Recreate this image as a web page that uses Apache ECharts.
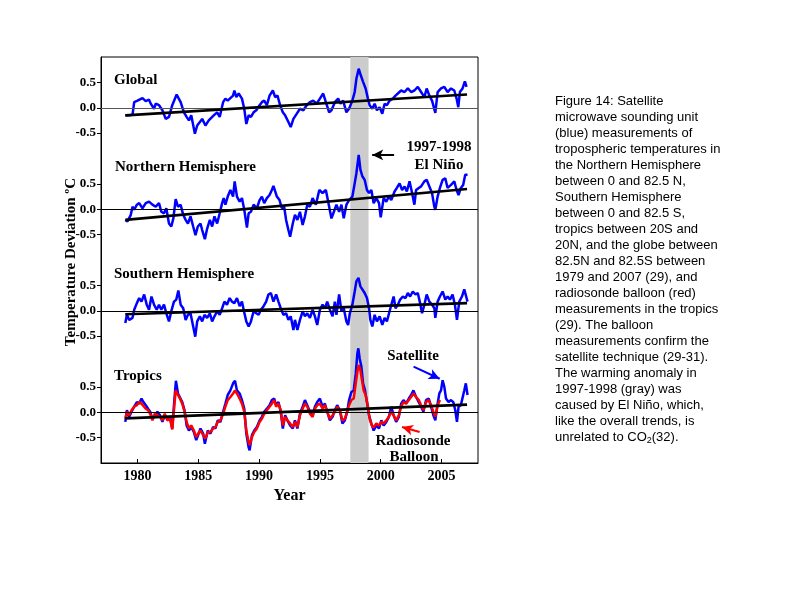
<!DOCTYPE html>
<html>
<head>
<meta charset="utf-8">
<script src="https://cdn.jsdelivr.net/npm/echarts@6/dist/echarts.min.js"></script>
<style>
html,body{margin:0;padding:0;background:#fff;}
#chart{width:800px;height:600px;}
</style>
</head>
<body>
<div id="chart"></div>
<script>
// Panel offsets on the shared y scale (each panel is drawn 2 units above the next)
const panelOffsets = { global: 6, nh: 4, sh: 2, tropics: 0 };
const xTicks = [1980, 1985, 1990, 1995, 2000, 2005];
const elNinoBand = [1997.5, 1999.0];

// Global satellite anomaly [year, °C]
const globalSat = [[1979.0,-0.15],[1979.32,-0.15],[1979.59,-0.14],[1979.73,0.11],[1980.0,0.14],[1980.41,0.19],[1980.68,0.13],[1980.95,0.16],[1981.09,0.08],[1981.36,-0.02],[1981.5,0.08],[1981.77,0.05],[1982.05,-0.05],[1982.32,-0.22],[1982.59,-0.18],[1982.86,0.05],[1983.22,0.26],[1983.55,0.11],[1983.82,-0.09],[1984.04,-0.18],[1984.23,-0.25],[1984.42,-0.15],[1984.72,-0.51],[1984.91,-0.35],[1985.13,-0.28],[1985.32,-0.22],[1985.59,-0.35],[1985.86,-0.25],[1986.0,-0.22],[1986.27,-0.15],[1986.55,-0.09],[1986.76,-0.18],[1987.04,0.11],[1987.23,0.18],[1987.42,0.14],[1987.64,0.19],[1987.86,0.24],[1987.97,0.34],[1988.13,0.21],[1988.32,0.28],[1988.59,0.18],[1988.78,-0.02],[1988.95,-0.32],[1989.14,-0.15],[1989.33,-0.18],[1989.55,-0.09],[1989.77,-0.05],[1990.04,0.05],[1990.23,0.11],[1990.42,0.14],[1990.64,0.05],[1990.86,0.24],[1991.13,0.34],[1991.32,0.21],[1991.51,0.24],[1991.73,0.05],[1991.95,-0.09],[1992.14,-0.15],[1992.41,-0.28],[1992.6,-0.38],[1992.82,-0.22],[1993.09,-0.12],[1993.36,-0.02],[1993.64,-0.05],[1993.91,0.05],[1994.18,0.11],[1994.45,0.14],[1994.73,0.08],[1995.0,0.18],[1995.27,0.28],[1995.49,0.11],[1995.76,-0.09],[1995.95,-0.05],[1996.23,0.11],[1996.5,0.18],[1996.69,0.08],[1996.91,0.14],[1997.18,-0.09],[1997.4,-0.02],[1997.67,0.14],[1997.86,0.31],[1998.0,0.57],[1998.19,0.77],[1998.36,0.64],[1998.55,0.51],[1998.76,0.38],[1998.95,0.18],[1999.09,0.05],[1999.31,-0.02],[1999.5,0.08],[1999.69,-0.05],[1999.91,0.01],[2000.13,-0.12],[2000.32,0.08],[2000.51,0.05],[2000.73,0.14],[2001.0,0.18],[2001.22,0.24],[2001.41,0.28],[2001.68,0.34],[2001.96,0.31],[2002.23,0.38],[2002.5,0.31],[2002.77,0.34],[2003.05,0.41],[2003.32,0.31],[2003.59,0.21],[2003.78,0.38],[2004.0,0.24],[2004.22,0.14],[2004.49,-0.1],[2004.68,0.31],[2004.96,0.38],[2005.23,0.41],[2005.5,0.31],[2005.78,0.38],[2006.05,0.34],[2006.24,0.18],[2006.38,0.01],[2006.51,0.31],[2006.73,0.38],[2006.92,0.52],[2007.06,0.41]];

// Northern Hemisphere satellite anomaly
const nhSat = [[1979.0,-0.21],[1979.18,-0.24],[1979.45,-0.11],[1979.59,0.05],[1979.73,-0.01],[1979.95,0.09],[1980.14,0.12],[1980.41,0.02],[1980.68,0.12],[1980.95,0.15],[1981.23,0.09],[1981.5,0.05],[1981.77,0.12],[1981.96,-0.05],[1982.18,-0.08],[1982.37,0.02],[1982.59,-0.28],[1982.78,-0.34],[1982.95,-0.18],[1983.14,0.2],[1983.33,0.05],[1983.55,0.09],[1983.76,-0.11],[1983.96,-0.21],[1984.15,-0.28],[1984.36,-0.14],[1984.58,-0.34],[1984.77,-0.51],[1984.96,-0.34],[1985.18,-0.28],[1985.32,-0.41],[1985.54,-0.59],[1985.73,-0.38],[1985.95,-0.21],[1986.14,-0.34],[1986.33,-0.14],[1986.55,-0.28],[1986.76,-0.08],[1986.96,0.12],[1987.09,0.22],[1987.23,0.09],[1987.42,0.25],[1987.64,0.38],[1987.86,0.25],[1987.99,0.55],[1988.18,0.25],[1988.4,0.15],[1988.59,0.22],[1988.78,-0.01],[1989.0,-0.36],[1989.14,-0.08],[1989.33,-0.05],[1989.55,0.09],[1989.82,0.02],[1990.04,0.18],[1990.23,0.25],[1990.42,0.12],[1990.64,0.22],[1990.86,0.28],[1991.05,0.38],[1991.18,0.46],[1991.46,0.25],[1991.68,0.18],[1991.87,0.02],[1992.06,0.05],[1992.22,-0.21],[1992.41,-0.41],[1992.55,-0.54],[1992.77,-0.28],[1992.95,-0.11],[1993.15,-0.21],[1993.36,-0.05],[1993.58,-0.31],[1993.77,-0.14],[1993.96,0.09],[1994.18,0.05],[1994.4,0.22],[1994.67,0.09],[1994.95,0.38],[1995.22,0.32],[1995.49,0.38],[1995.68,0.15],[1995.95,-0.18],[1996.15,-0.05],[1996.36,0.09],[1996.58,-0.05],[1996.77,0.09],[1996.96,-0.18],[1997.18,0.09],[1997.4,0.18],[1997.67,0.25],[1997.86,0.51],[1998.0,0.71],[1998.19,1.07],[1998.33,0.78],[1998.49,0.65],[1998.68,0.58],[1998.87,0.38],[1999.04,0.32],[1999.23,0.38],[1999.42,0.12],[1999.64,0.22],[1999.86,0.12],[2000.0,-0.16],[2000.24,0.22],[2000.46,0.15],[2000.67,0.25],[2000.87,0.18],[2001.14,0.35],[2001.33,0.42],[2001.55,0.51],[2001.76,0.38],[2001.96,0.45],[2002.15,0.35],[2002.37,0.55],[2002.58,0.32],[2002.77,0.09],[2002.91,0.38],[2003.13,0.42],[2003.32,0.45],[2003.59,0.55],[2003.78,0.58],[2004.0,0.45],[2004.22,0.32],[2004.41,0.05],[2004.49,-0.01],[2004.68,0.25],[2004.87,0.42],[2005.09,0.58],[2005.31,0.61],[2005.5,0.42],[2005.78,0.48],[2006.05,0.55],[2006.24,0.38],[2006.4,0.28],[2006.59,0.42],[2006.78,0.48],[2006.95,0.68],[2007.14,0.68]];

// Southern Hemisphere satellite anomaly
const shSat = [[1979.0,-0.24],[1979.13,-0.08],[1979.32,-0.18],[1979.59,-0.14],[1979.73,0.02],[1979.95,0.15],[1980.14,0.25],[1980.33,0.18],[1980.55,0.32],[1980.76,0.12],[1980.95,0.02],[1981.15,0.28],[1981.36,0.12],[1981.58,0.02],[1981.77,0.12],[1981.96,0.02],[1982.18,0.12],[1982.37,-0.05],[1982.59,-0.21],[1982.78,-0.01],[1983.0,0.18],[1983.19,0.22],[1983.36,0.4],[1983.55,0.12],[1983.76,0.05],[1983.96,-0.18],[1984.15,-0.08],[1984.36,-0.05],[1984.58,-0.31],[1984.75,-0.51],[1984.91,-0.21],[1985.13,-0.11],[1985.32,-0.21],[1985.51,-0.08],[1985.73,-0.14],[1985.95,-0.05],[1986.14,-0.21],[1986.33,-0.11],[1986.55,-0.01],[1986.76,-0.08],[1986.96,0.05],[1987.15,0.18],[1987.36,0.12],[1987.58,0.25],[1987.77,0.18],[1987.97,0.15],[1988.18,0.25],[1988.4,0.09],[1988.59,0.18],[1988.73,0.02],[1988.95,-0.21],[1989.14,-0.31],[1989.33,-0.21],[1989.55,-0.01],[1989.77,-0.05],[1989.96,-0.08],[1990.15,0.02],[1990.37,0.09],[1990.58,0.18],[1990.77,0.32],[1990.97,0.35],[1991.18,0.18],[1991.4,0.32],[1991.59,0.18],[1991.78,0.05],[1992.0,-0.08],[1992.22,-0.05],[1992.41,-0.18],[1992.6,-0.11],[1992.82,-0.38],[1992.95,-0.18],[1993.15,-0.38],[1993.36,-0.18],[1993.58,-0.01],[1993.77,-0.11],[1993.96,-0.05],[1994.18,-0.14],[1994.4,0.02],[1994.59,-0.11],[1994.78,-0.28],[1995.0,0.02],[1995.22,0.12],[1995.41,0.05],[1995.6,0.18],[1995.82,0.02],[1996.04,-0.11],[1996.23,0.18],[1996.36,-0.08],[1996.58,0.32],[1996.77,-0.01],[1996.96,0.05],[1997.18,-0.21],[1997.32,-0.28],[1997.46,-0.05],[1997.67,0.12],[1997.86,0.38],[1998.0,0.58],[1998.17,0.65],[1998.33,0.48],[1998.49,0.51],[1998.68,0.35],[1998.87,0.25],[1999.04,0.05],[1999.15,-0.18],[1999.31,-0.31],[1999.5,-0.08],[1999.69,-0.21],[1999.91,-0.11],[2000.13,-0.28],[2000.32,-0.14],[2000.51,-0.21],[2000.73,-0.01],[2000.87,0.02],[2001.06,0.28],[2001.22,0.05],[2001.41,0.12],[2001.6,0.22],[2001.82,0.28],[2002.04,0.25],[2002.23,0.35],[2002.42,0.28],[2002.64,0.38],[2002.86,0.32],[2003.05,0.35],[2003.24,0.15],[2003.4,-0.05],[2003.59,0.12],[2003.78,0.32],[2004.0,0.18],[2004.22,0.12],[2004.41,0.05],[2004.49,-0.14],[2004.68,0.18],[2004.87,0.28],[2005.09,0.38],[2005.31,0.22],[2005.5,0.28],[2005.69,0.22],[2005.91,0.32],[2006.1,0.12],[2006.27,-0.18],[2006.46,0.18],[2006.68,0.28],[2006.87,0.42],[2007.0,0.45],[2007.14,0.18]];

// Tropics satellite anomaly
const tropicsSat = [[1979.0,-0.19],[1979.13,0.04],[1979.32,-0.09],[1979.51,0.01],[1979.73,0.11],[1979.95,0.2],[1980.14,0.17],[1980.33,0.27],[1980.49,0.2],[1980.68,0.14],[1980.87,0.07],[1981.04,0.01],[1981.23,-0.13],[1981.42,-0.06],[1981.64,0.01],[1981.85,-0.06],[1982.05,-0.19],[1982.24,-0.06],[1982.45,-0.13],[1982.67,-0.09],[1982.86,-0.32],[1983.0,0.14],[1983.16,0.62],[1983.33,0.37],[1983.49,0.34],[1983.68,0.2],[1983.87,0.04],[1984.04,-0.26],[1984.23,-0.36],[1984.42,-0.29],[1984.64,-0.39],[1984.83,-0.55],[1984.99,-0.45],[1985.18,-0.32],[1985.4,-0.42],[1985.54,-0.62],[1985.78,-0.36],[1986.0,-0.42],[1986.22,-0.29],[1986.41,-0.32],[1986.6,-0.16],[1986.82,-0.19],[1987.04,0.01],[1987.23,0.17],[1987.42,0.34],[1987.64,0.43],[1987.86,0.57],[1988.02,0.62],[1988.18,0.43],[1988.4,0.37],[1988.59,0.24],[1988.78,0.07],[1988.95,-0.42],[1989.14,-0.69],[1989.22,-0.75],[1989.41,-0.45],[1989.6,-0.36],[1989.82,-0.29],[1990.04,-0.16],[1990.23,-0.09],[1990.42,0.01],[1990.64,0.07],[1990.86,0.14],[1991.05,0.24],[1991.24,0.27],[1991.4,0.14],[1991.59,0.2],[1991.78,0.01],[1991.95,-0.32],[1992.14,-0.06],[1992.33,-0.16],[1992.55,-0.26],[1992.77,-0.32],[1992.95,-0.16],[1993.15,-0.32],[1993.36,-0.03],[1993.58,0.11],[1993.77,0.24],[1993.96,0.14],[1994.18,0.01],[1994.4,-0.06],[1994.59,0.11],[1994.78,0.2],[1995.0,0.27],[1995.22,0.11],[1995.41,0.17],[1995.6,0.01],[1995.82,-0.16],[1996.04,-0.09],[1996.23,0.04],[1996.42,0.14],[1996.64,0.04],[1996.85,-0.22],[1997.05,-0.16],[1997.24,0.01],[1997.4,0.24],[1997.59,0.4],[1997.78,0.43],[1997.95,0.76],[1998.08,1.16],[1998.16,1.26],[1998.27,1.06],[1998.41,0.9],[1998.55,0.57],[1998.71,0.43],[1998.87,0.2],[1999.04,-0.06],[1999.23,-0.22],[1999.42,-0.36],[1999.64,-0.26],[1999.86,-0.32],[2000.05,-0.16],[2000.24,-0.26],[2000.46,-0.19],[2000.67,-0.09],[2000.87,0.11],[2001.06,-0.06],[2001.27,-0.19],[2001.49,-0.09],[2001.68,0.17],[2001.87,0.24],[2002.09,0.17],[2002.31,0.27],[2002.5,0.34],[2002.69,0.43],[2002.91,0.3],[2003.13,0.2],[2003.32,0.11],[2003.51,0.01],[2003.73,0.24],[2003.95,0.27],[2004.14,0.11],[2004.33,-0.06],[2004.49,-0.16],[2004.68,0.17],[2004.82,0.37],[2004.96,0.43],[2005.09,0.63],[2005.23,0.5],[2005.37,0.27],[2005.58,0.2],[2005.78,0.24],[2005.97,0.2],[2006.13,0.04],[2006.27,-0.19],[2006.4,0.11],[2006.59,0.14],[2006.73,0.17],[2006.87,0.43],[2007.0,0.57],[2007.14,0.34]];

// Tropics radiosonde balloon anomaly
const tropicsBalloon = [[1979.0,-0.13],[1979.13,0.01],[1979.32,-0.06],[1979.51,0.04],[1979.73,0.11],[1979.95,0.14],[1980.14,0.2],[1980.33,0.17],[1980.49,0.14],[1980.68,0.07],[1980.87,0.04],[1981.04,-0.03],[1981.23,-0.16],[1981.42,-0.03],[1981.64,-0.06],[1981.85,-0.09],[1982.05,-0.16],[1982.24,-0.03],[1982.45,-0.16],[1982.67,-0.13],[1982.86,-0.34],[1983.0,0.04],[1983.14,0.43],[1983.27,0.37],[1983.49,0.27],[1983.68,0.17],[1983.87,0.01],[1984.04,-0.19],[1984.23,-0.32],[1984.42,-0.26],[1984.64,-0.36],[1984.83,-0.49],[1984.99,-0.42],[1985.18,-0.36],[1985.4,-0.45],[1985.59,-0.52],[1985.78,-0.39],[1986.0,-0.39],[1986.22,-0.32],[1986.41,-0.29],[1986.6,-0.19],[1986.82,-0.16],[1987.04,-0.03],[1987.23,0.11],[1987.42,0.24],[1987.64,0.3],[1987.86,0.37],[1988.02,0.43],[1988.18,0.37],[1988.4,0.27],[1988.59,0.17],[1988.78,0.01],[1988.95,-0.36],[1989.14,-0.59],[1989.22,-0.65],[1989.41,-0.49],[1989.6,-0.39],[1989.82,-0.32],[1990.04,-0.19],[1990.23,-0.13],[1990.42,-0.03],[1990.64,0.04],[1990.86,0.11],[1991.05,0.17],[1991.24,0.24],[1991.4,0.11],[1991.59,0.17],[1991.78,0.04],[1991.95,-0.26],[1992.14,-0.09],[1992.33,-0.16],[1992.55,-0.22],[1992.77,-0.29],[1992.95,-0.19],[1993.15,-0.29],[1993.36,-0.06],[1993.58,0.07],[1993.77,0.17],[1993.96,0.11],[1994.18,-0.03],[1994.4,-0.09],[1994.59,0.07],[1994.78,0.14],[1995.0,0.17],[1995.22,0.07],[1995.41,0.14],[1995.6,0.01],[1995.82,-0.13],[1996.04,-0.06],[1996.23,0.01],[1996.42,0.11],[1996.64,0.04],[1996.85,-0.16],[1997.05,-0.13],[1997.24,0.01],[1997.4,0.14],[1997.59,0.24],[1997.78,0.27],[1997.95,0.57],[1998.08,0.8],[1998.19,0.93],[1998.33,0.83],[1998.46,0.63],[1998.6,0.43],[1998.76,0.34],[1998.93,0.14],[1999.09,-0.13],[1999.26,-0.26],[1999.42,-0.3],[1999.64,-0.22],[1999.86,-0.26],[2000.05,-0.19],[2000.24,-0.22],[2000.46,-0.16],[2000.67,-0.09],[2000.87,0.01],[2001.06,-0.06],[2001.27,-0.16],[2001.49,-0.06],[2001.68,0.11],[2001.87,0.2],[2002.09,0.17],[2002.31,0.24],[2002.5,0.3],[2002.69,0.37],[2002.91,0.3],[2003.13,0.24],[2003.32,0.14],[2003.51,0.04],[2003.73,0.2],[2003.95,0.24],[2004.14,0.14],[2004.33,0.01],[2004.49,-0.09],[2004.68,0.14],[2004.87,0.24]];

// Linear trends [start, end]
const globalTrend = [[1979.0,-0.15],[2007.1,0.26]];
const nhTrend = [[1979.0,-0.21],[2007.1,0.40]];
const shTrend = [[1979.0,-0.07],[2007.1,0.15]];
const tropicsTrend = [[1979.0,-0.12],[2007.1,0.15]];

const panelTitles = ['Global', 'Northern Hemisphere', 'Southern Hemisphere', 'Tropics'];

const captionLines = [
  'Figure 14: Satellite',
  'microwave sounding unit',
  '(blue) measurements of',
  'tropospheric temperatures in',
  'the Northern Hemisphere',
  'between 0 and 82.5 N,',
  'Southern Hemisphere',
  'between 0 and 82.5 S,',
  'tropics between 20S and',
  '20N, and the globe between',
  '82.5N and 82.5S between',
  '1979 and 2007 (29), and',
  'radiosonde balloon (red)',
  'measurements in the tropics',
  '(29). The balloon',
  'measurements confirm the',
  'satellite technique (29-31).',
  'The warming anomaly in',
  '1997-1998 (gray) was',
  'caused by El Niño, which,',
  'like the overall trends, is'
];

function shift(arr, off) { return arr.map(function (p) { return [p[0], p[1] + off]; }); }

const SERIF = '"Liberation Serif", "Times New Roman", serif';
const SANS = '"Liberation Sans", Arial, sans-serif';
const chart = echarts.init(document.getElementById('chart'), null, { renderer: 'canvas' });

const yTickVals = [];
const yLabelVals = [];
[0, 2, 4, 6].forEach(function (o) {
  yTickVals.push(o - 0.5, o, o + 0.5);
  yLabelVals.push(o - 0.5, o, o + 0.5);
});

function lineSeries(name, data, color, width, z) {
  return {
    name: name, type: 'line', data: data, showSymbol: false, symbol: 'none',
    lineStyle: { color: color, width: width }, z: z, silent: true, animation: false
  };
}

const captionText = captionLines.map(function (l) { return '{n|' + l + '}'; }).join('\n') +
  '\n{n|unrelated to CO}{sub|2}{n|(32).}';

const option = {
  animation: false,
  backgroundColor: '#fff',
  grid: { left: 101, top: 57, width: 377, height: 406, show: true, borderColor: '#000', borderWidth: 1, backgroundColor: 'transparent' },
  xAxis: {
    type: 'value', min: 1977, max: 2008,
    axisLine: { show: true, onZero: false, lineStyle: { color: '#000', width: 1 } },
    splitLine: { show: false },
    axisTick: { show: true, inside: true, length: 4, lineStyle: { color: '#000' }, customValues: xTicks },
    axisLabel: { customValues: xTicks, color: '#000', fontFamily: SERIF, fontWeight: 'bold', fontSize: 14, margin: 6,
      formatter: function (v) { return String(Math.round(v)); } },
    name: 'Year', nameLocation: 'middle', nameGap: 25,
    nameTextStyle: { color: '#000', fontFamily: SERIF, fontWeight: 'bold', fontSize: 16 }
  },
  yAxis: {
    type: 'value', min: -1, max: 7,
    axisLine: { show: true, onZero: false, lineStyle: { color: '#000', width: 1 } },
    splitLine: { show: false },
    axisTick: { show: true, inside: false, length: 4, lineStyle: { color: '#000' }, customValues: yTickVals },
    axisLabel: {
      customValues: yLabelVals, color: '#000', fontFamily: SERIF, fontWeight: 'bold', fontSize: 13, margin: 5,
      formatter: function (v) {
        const r = Math.round((((v % 2) + 2) % 2) * 10) / 10;
        if (r === 0) return '0.0';
        if (r === 0.5) return '0.5';
        if (r === 1.5) return '-0.5';
        return '';
      }
    }
  },
  graphic: [
    { type: 'text', left: 114, top: 73, style: { text: panelTitles[0], font: 'bold 15px ' + SERIF, fill: '#000' } },
    { type: 'text', left: 115, top: 160, style: { text: panelTitles[1], font: 'bold 15px ' + SERIF, fill: '#000' } },
    { type: 'text', left: 114, top: 267, style: { text: panelTitles[2], font: 'bold 15px ' + SERIF, fill: '#000' } },
    { type: 'text', left: 114, top: 369, style: { text: panelTitles[3], font: 'bold 15px ' + SERIF, fill: '#000' } },
    { type: 'text', x: 439, y: 147, style: { text: '1997-1998', font: 'bold 15px ' + SERIF, fill: '#000', align: 'center', verticalAlign: 'middle' } },
    { type: 'text', x: 439, y: 165, style: { text: 'El Niño', font: 'bold 15px ' + SERIF, fill: '#000', align: 'center', verticalAlign: 'middle' } },
    { type: 'text', x: 413, y: 356, style: { text: 'Satellite', font: 'bold 15px ' + SERIF, fill: '#000', align: 'center', verticalAlign: 'middle' } },
    { type: 'text', x: 413, y: 441, style: { text: 'Radiosonde', font: 'bold 15px ' + SERIF, fill: '#000', align: 'center', verticalAlign: 'middle' } },
    { type: 'text', x: 414, y: 457, style: { text: 'Balloon', font: 'bold 15px ' + SERIF, fill: '#000', align: 'center', verticalAlign: 'middle' } },
    { type: 'text', x: 71, y: 262, rotation: Math.PI / 2, style: { text: 'Temperature Deviation ºC', font: 'bold 15px ' + SERIF, fill: '#000', align: 'center', verticalAlign: 'middle' } },
    { type: 'text', left: 555, top: 93, style: {
        text: captionText,
        font: '13px ' + SANS, fill: '#000', lineHeight: 16,
        rich: {
          n: { fontSize: 13, fontFamily: SANS, lineHeight: 16, fill: '#000' },
          sub: { fontSize: 9, fontFamily: SANS, lineHeight: 16, verticalAlign: 'bottom', padding: [4, 0, 0, 0], fill: '#000' }
        }
      } }
  ],
  series: [
    {
      type: 'line', data: [], z: 1, silent: true,
      markArea: { silent: true, itemStyle: { color: '#cccccc' }, data: [[{ xAxis: elNinoBand[0] }, { xAxis: elNinoBand[1] }]] },
      markLine: {
        silent: true, symbol: 'none', label: { show: false },
        lineStyle: { color: '#000', width: 1, type: 'solid' },
        data: [{ yAxis: panelOffsets.global, lineStyle: { color: '#555', type: 'solid' } }, { yAxis: panelOffsets.nh }, { yAxis: panelOffsets.sh }, { yAxis: panelOffsets.tropics }]
      }
    },
    lineSeries('Global', shift(globalSat, panelOffsets.global), '#0000ff', 2.5, 3),
    lineSeries('NH', shift(nhSat, panelOffsets.nh), '#0000ff', 2.5, 3),
    lineSeries('SH', shift(shSat, panelOffsets.sh), '#0000ff', 2.5, 3),
    lineSeries('Tropics satellite', shift(tropicsSat, panelOffsets.tropics), '#0000ff', 2.5, 3),
    lineSeries('Tropics balloon', shift(tropicsBalloon, panelOffsets.tropics), '#ff0000', 2.5, 4),
    lineSeries('Global trend', shift(globalTrend, panelOffsets.global), '#000', 2.6, 5),
    lineSeries('NH trend', shift(nhTrend, panelOffsets.nh), '#000', 2.6, 5),
    lineSeries('SH trend', shift(shTrend, panelOffsets.sh), '#000', 2.6, 5),
    {
      type: 'line', data: shift(tropicsTrend, panelOffsets.tropics), showSymbol: false, symbol: 'none',
      lineStyle: { color: '#000', width: 2.6 }, z: 5, silent: true,
      markLine: {
        silent: true, symbol: ['none', 'arrow'], symbolSize: [8, 11], label: { show: false },
        data: [
          [{ coord: [2001.1, 5.07], lineStyle: { color: '#000', width: 2, type: 'solid' } }, { coord: [1999.3, 5.07] }],
          [{ coord: [2002.7, 0.9], lineStyle: { color: '#0000ff', width: 2, type: 'solid' } }, { coord: [2004.85, 0.66] }],
          [{ coord: [2003.2, -0.39], lineStyle: { color: '#ff0000', width: 2, type: 'solid' } }, { coord: [2001.75, -0.29] }]
        ]
      }
    }
  ]
};
chart.setOption(option);
</script>
</body>
</html>
